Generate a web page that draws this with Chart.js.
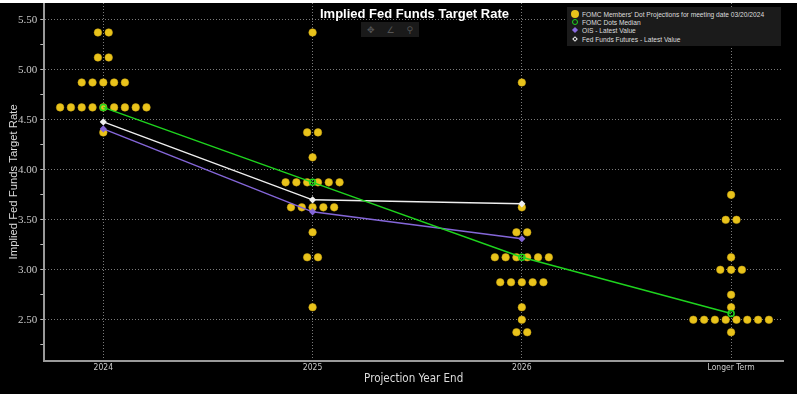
<!DOCTYPE html>
<html>
<head>
<meta charset="utf-8">
<script src="https://cdn.jsdelivr.net/npm/chart.js@4.4.1/dist/chart.umd.min.js"></script>
<style>
  html, body { margin: 0; padding: 0; background: #fff; }
  #wrap { position: absolute; left: 0; top: 3px; width: 797px; height: 391px; background: #000; overflow: hidden; }
  #title { position: absolute; left: 0; width: 829px; top: 3px; text-align: center; color: #fff;
           font: bold 13px "Liberation Sans", Arial, sans-serif; pointer-events: none; }
  #tools { position: absolute; left: 361px; top: 19px; width: 58px; height: 15px; background: #1a1a1a;
           color: #555; font: 9px "DejaVu Sans", sans-serif; display: flex; justify-content: space-around; align-items: center; }
  #legend { position: absolute; left: 567px; top: 4px; width: 214px; height: 39px; background: #1b1b1b;
            box-sizing: border-box; padding-top: 3px; }
  #legend .row { position: relative; height: 8.2px; line-height: 8.2px; color: #ddd; white-space: nowrap;
                 font: 8px "Liberation Sans", Arial, sans-serif; }
  #legend .txt { position: absolute; left: 15px; top: 0; transform: scaleX(0.83); transform-origin: left center; }
  #legend .mk { position: absolute; left: 7.7px; top: 50%; transform: translate(-50%, -50%); box-sizing: border-box; }
  .mk.dot { width: 8px; height: 8px; border-radius: 50%; background: #e9c31b; }
  .mk.med { width: 6px; height: 6px; border-radius: 50%; border: 1.5px solid #1ed31e; }
  #legend .mk.ois { width: 4px; height: 4px; border: 1px solid #8a6be0; background: #8a6be0; transform: translate(-50%, -50%) rotate(45deg); }
  #legend .mk.fut { width: 4px; height: 4px; border: 1px solid #eee; transform: translate(-50%, -50%) rotate(45deg); }
</style>
</head>
<body>
<div id="wrap">
  <canvas id="myChart" width="797" height="391"></canvas>
  <div id="title">Implied Fed Funds Target Rate</div>
  <div id="tools"><span>✥</span><span>∠</span><span>⚲</span></div>
  <div id="legend">
    <div class="row"><span class="mk dot"></span><span class="txt">FOMC Members' Dot Projections for meeting date 03/20/2024</span></div>
    <div class="row"><span class="mk med"></span><span class="txt">FOMC Dots Median</span></div>
    <div class="row"><span class="mk ois"></span><span class="txt">OIS - Latest Value</span></div>
    <div class="row"><span class="mk fut"></span><span class="txt">Fed Funds Futures - Latest Value</span></div>
  </div>
</div>
<script>
// 데이터 (FOMC 2024-03 점도표)
const categories = ['2024', '2025', '2026', 'Longer Term'];
const dots2024 = [5.375, 5.375, 5.125, 5.125, 4.875, 4.875, 4.875, 4.875, 4.875,
  4.625, 4.625, 4.625, 4.625, 4.625, 4.625, 4.625, 4.625, 4.625, 4.375];
const dots2025 = [5.375, 4.375, 4.375, 4.125, 3.875, 3.875, 3.875, 3.875, 3.875, 3.875,
  3.625, 3.625, 3.625, 3.625, 3.625, 3.375, 3.125, 3.125, 2.625];
const dots2026 = [4.875, 3.625, 3.375, 3.375, 3.125, 3.125, 3.125, 3.125, 3.125, 3.125,
  2.875, 2.875, 2.875, 2.875, 2.875, 2.625, 2.5, 2.375, 2.375];
const dotsLonger = [3.75, 3.5, 3.5, 3.125, 3.0, 3.0, 3.0, 2.75, 2.625,
  2.5, 2.5, 2.5, 2.5, 2.5, 2.5, 2.5, 2.5, 2.375];
const medianDots = [4.625, 3.875, 3.125, 2.5625];
const oisLatest = [4.41, 3.58, 3.31];
const futuresLatest = [4.48, 3.70, 3.66];
const yTicks = [2.25, 2.5, 2.75, 3.0, 3.25, 3.5, 3.75, 4.0, 4.25, 4.5, 4.75, 5.0, 5.25, 5.5];
const yTickLabels = ['', '2.50', '', '3.00', '', '3.50', '', '4.00', '', '4.50', '', '5.00', '', '5.50'];

const dotGap = 0.0516; // 점 사이 간격 (x축 단위)
const narrow = '"Liberation Sans Narrow", "DejaVu Sans Condensed", "Liberation Sans", sans-serif';

// 같은 값끼리 가로로 나란히 배치
function spreadDots(values, cat) {
  const counts = {};
  values.forEach(v => counts[v] = (counts[v] || 0) + 1);
  const seen = {};
  return values.map(v => {
    const k = seen[v] || 0;
    seen[v] = k + 1;
    return { x: cat + (k - (counts[v] - 1) / 2) * dotGap, y: v };
  });
}
const allDots = [dots2024, dots2025, dots2026, dotsLonger].flatMap((vals, i) => spreadDots(vals, i));

const toXY = arr => arr.map((v, i) => ({ x: i, y: v }));
const isMajor = v => Math.abs(v * 2 - Math.round(v * 2)) < 1e-6;

const ctx = document.querySelector('#myChart');
const ygChart = new Chart(ctx, {
  type: 'scatter',
  data: {
    datasets: [
      {
        label: 'FOMC Dots Median',
        data: toXY(medianDots),
        showLine: true,
        borderColor: '#1ed31e',
        borderWidth: 1.5,
        pointStyle: 'circle',
        pointRadius: 3,
        pointBackgroundColor: 'rgba(0,0,0,0)',
        pointBorderColor: '#1ed31e',
        pointBorderWidth: 1.5
      },
      {
        label: 'Fed Funds Futures - Latest Value',
        data: toXY(futuresLatest),
        showLine: true,
        borderColor: '#efefef',
        borderWidth: 1.5,
        pointStyle: 'rectRot',
        pointRadius: 2.5,
        pointBackgroundColor: '#efefef',
        pointBorderColor: '#efefef'
      },
      {
        label: 'OIS - Latest Value',
        data: toXY(oisLatest),
        showLine: true,
        borderColor: '#8466d8',
        borderWidth: 1.5,
        pointStyle: 'rectRot',
        pointRadius: 2.5,
        pointBackgroundColor: '#8466d8',
        pointBorderColor: '#8466d8'
      },
      {
        label: "FOMC Members' Dot Projections for meeting date 03/20/2024",
        data: allDots,
        pointStyle: 'circle',
        pointRadius: 3.8,
        backgroundColor: '#e9c31b',
        borderColor: '#caa514',
        borderWidth: 0.5
      }
    ]
  },
  options: {
    responsive: false,
    animation: false,
    events: [],
    layout: { autoPadding: false, padding: { top: 0, right: 14, bottom: 0, left: 0 } },
    plugins: { legend: { display: false }, tooltip: { enabled: false }, title: { display: false } },
    scales: {
      x: {
        type: 'linear',
        min: -0.282,
        max: 3.248,
        afterFit: s => { s.height = 33.3; s.paddingLeft = 0; s.paddingRight = 0; },
        afterBuildTicks: s => { s.ticks = categories.map((c, i) => ({ value: i })); },
        ticks: {
          color: '#ccc',
          padding: 2,
          font: { family: narrow, size: 8.5 },
          callback: v => categories[v]
        },
        grid: { color: '#7a7a7a', lineWidth: 1, drawTicks: false },
        border: { color: '#9a9a9a', width: 2, dash: [1, 2] },
        title: {
          display: true,
          text: 'Projection Year End',
          color: '#ddd',
          font: { family: narrow, size: 11.5 },
          padding: { top: 0, bottom: 8 }
        }
      },
      y: {
        min: 2.09,
        max: 5.67,
        afterFit: s => { s.width = 44.3; s.paddingTop = 0; s.paddingBottom = 0; },
        afterBuildTicks: s => { s.ticks = yTicks.map(v => ({ value: v })); },
        ticks: {
          color: '#c8c8c8',
          padding: 3,
          font: { family: '"Liberation Serif", "DejaVu Serif", serif', size: 11 },
          callback: (v, i) => yTickLabels[i]
        },
        grid: {
          color: c => (c.tick && isMajor(c.tick.value)) ? '#7a7a7a' : 'rgba(0,0,0,0)',
          tickColor: '#bbb',
          tickLength: 4,
          lineWidth: 1
        },
        border: { color: '#9a9a9a', width: 2, dash: [1, 2] },
        title: {
          display: true,
          text: 'Implied Fed Funds Target Rate',
          color: '#ddd',
          font: { family: '"Liberation Sans", Arial, sans-serif', size: 11.3 },
          padding: { top: 7, bottom: 0 }
        }
      }
    }
  }
});
</script>
</body>
</html>
